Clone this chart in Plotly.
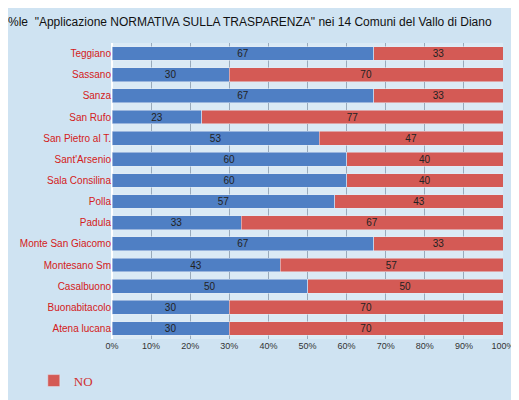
import plotly.graph_objects as go

comuni = ["Teggiano", "Sassano", "Sanza", "San Rufo", "San Pietro al T.", "Sant'Arsenio",
          "Sala Consilina", "Polla", "Padula", "Monte San Giacomo", "Montesano Sm",
          "Casalbuono", "Buonabitacolo", "Atena lucana"]
si = [67, 30, 67, 23, 53, 60, 60, 57, 33, 67, 43, 50, 30, 30]
no = [33, 70, 33, 77, 47, 40, 40, 43, 67, 33, 57, 50, 70, 70]

fig = go.Figure()
fig.add_trace(go.Bar(y=comuni, x=si, orientation="h", name="SI", marker_color="#4f7fc4",
                     text=si, textposition="inside", insidetextanchor="middle", constraintext="none",
                     textfont=dict(color="#222", size=10), showlegend=False))
fig.add_trace(go.Bar(y=comuni, x=no, orientation="h", name="NO", marker_color="#d45a55",
                     text=no, textposition="inside", insidetextanchor="middle", constraintext="none",
                     textfont=dict(color="#222", size=10)))
fig.update_layout(
    barmode="stack", width=519, height=400, bargap=0.35,
    paper_bgcolor="#cfe3f2", plot_bgcolor="rgba(255,255,255,0.25)",
    title=dict(text='%le  "Applicazione NORMATIVA SULLA TRASPARENZA" nei 14 Comuni del Vallo di Diano',
               x=0.0, y=0.975, font=dict(size=12, color="#111", family="Arial")),
    margin=dict(l=100, r=20, t=35, b=60),
    legend=dict(x=-0.2, y=-0.09, xanchor="left", yanchor="top", bgcolor="rgba(0,0,0,0)",
                font=dict(size=13, color="#d03030", family="Arial Black")),
    font=dict(family="Arial"),
)
fig.update_yaxes(categoryorder="array", categoryarray=comuni[::-1],
                 tickfont=dict(color="#d42020", size=10, family="Arial"))
fig.update_xaxes(range=[0, 100], tickvals=list(range(0, 101, 10)),
                 ticktext=[f"{v}%" for v in range(0, 101, 10)],
                 tickfont=dict(size=9, color="#333"), showgrid=True, gridcolor="#9ab")
fig.write_html("out.html")
